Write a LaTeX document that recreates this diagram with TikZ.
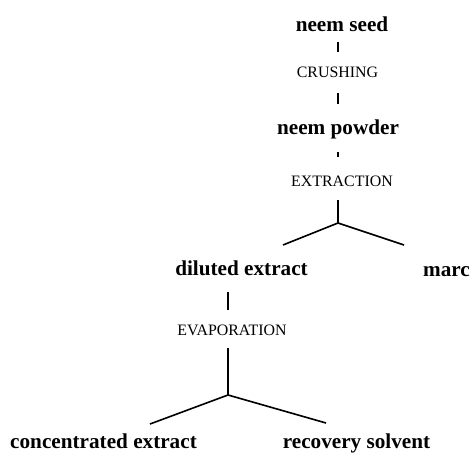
\documentclass[tikz,border=0pt]{standalone}
\usepackage{fontspec}
\setmainfont{Liberation Serif}
\begin{document}
\begin{tikzpicture}[x=1bp,y=-1bp,
  prod/.style={font=\fontsize{21.2bp}{25bp}\selectfont\bfseries, anchor=base, inner sep=0pt},
  proc/.style={font=\fontsize{15.9bp}{19bp}\selectfont, anchor=base, inner sep=0pt},
  link/.style={line width=1.6bp}]
\useasboundingbox (0,0) rectangle (474,457);
% texts
\node[prod] (seed) at (342,32) {neem seed};
\node[proc] (crush) at (337.5,78) {CRUSHING};
\node[prod] (powder) at (338,135) {neem powder};
\node[proc] (extr) at (342,187) {EXTRACTION};
\node[prod] (dil) at (241.5,275) {diluted extract};
\node[prod] (marc) at (446.5,276) {marc};
\node[proc] (evap) at (232,335) {EVAPORATION};
\node[prod] (conc) at (103.5,448) {concentrated extract};
\node[prod] (rec) at (356.5,448) {recovery solvent};
% connector ends
\coordinate (a1) at (338,42);  \coordinate (a2) at (338,52);
\coordinate (b1) at (338,93);  \coordinate (b2) at (338,104);
\coordinate (c1) at (338,152); \coordinate (c2) at (338,157);
\coordinate (d1) at (338,200); \coordinate (j1) at (338,223);
\coordinate (dl) at (283,245); \coordinate (dr) at (404,245);
\coordinate (e1) at (228,292); \coordinate (e2) at (228,310);
\coordinate (f1) at (228,348); \coordinate (j2) at (228,395);
\coordinate (fl) at (150,424); \coordinate (fr) at (326,423);
% connectors
\draw[link] (a1) -- (a2);
\draw[link] (b1) -- (b2);
\draw[link] (c1) -- (c2);
\draw[link] (d1) -- (j1);
\draw[link] (dl) -- (j1) -- (dr);
\draw[link] (e1) -- (e2);
\draw[link] (f1) -- (j2);
\draw[link] (fl) -- (j2) -- (fr);
\end{tikzpicture}
\end{document}
